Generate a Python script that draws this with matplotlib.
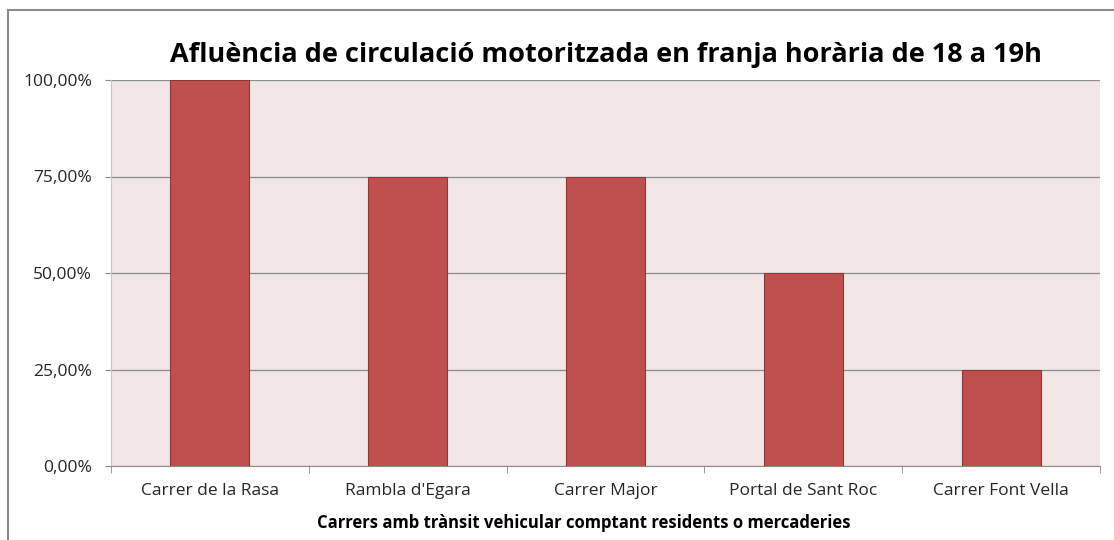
import matplotlib.pyplot as plt
from matplotlib.lines import Line2D
from matplotlib.ticker import FixedLocator, FuncFormatter

plt.rcParams["font.family"] = ["Open Sans", "DejaVu Sans"]

carrers = ["Carrer de la Rasa", "Rambla d'Egara", "Carrer Major",
           "Portal de Sant Roc", "Carrer Font Vella"]
afluencia = [1.00, 0.75, 0.75, 0.50, 0.25]
y_ticks = [0.0, 0.25, 0.50, 0.75, 1.00]

W, H = 1114, 540
fig = plt.figure(figsize=(W / 100, H / 100), dpi=100)
fig.patch.set_facecolor("white")

# chart frame (only left and top edge visible in the crop)
fig.add_artist(Line2D([8 / W, 8 / W], [0, 1 - 10 / H], transform=fig.transFigure,
                      color="#8c8c8c", lw=1.5))
fig.add_artist(Line2D([8 / W, 1], [1 - 10 / H, 1 - 10 / H], transform=fig.transFigure,
                      color="#8c8c8c", lw=1.5))

ax = fig.add_axes([111 / W, 1 - 466 / H, (1100 - 111) / W, (466 - 80) / H])
ax.set_facecolor("#f2e6e6")

x = range(len(carrers))
ax.bar(x, afluencia, width=0.4, color="#c0504d", edgecolor="#8c3836", linewidth=0.8, zorder=3)

ax.set_xlim(-0.5, len(carrers) - 0.5)
ax.set_ylim(0, 1.0)
ax.yaxis.set_major_locator(FixedLocator(y_ticks))
ax.yaxis.set_major_formatter(FuncFormatter(lambda v, p: f"{v * 100:.2f}%".replace(".", ",")))
ax.grid(axis="y", color="#8c8c8c", lw=0.9, zorder=1)

ax.set_xticks(list(x))
ax.set_xticklabels(carrers)
ax.set_xticks([i + 0.5 for i in range(-1, len(carrers))], minor=True)
ax.tick_params(axis="x", which="major", length=0, pad=12, labelsize=12.5, colors="#262626")
ax.tick_params(axis="x", which="minor", length=5, color="#8c8c8c", direction="out")
ax.tick_params(axis="y", length=4.5, color="#8c8c8c", labelsize=12.5, colors="#262626", pad=9)

for s in ["top", "right"]:
    ax.spines[s].set_visible(False)
ax.spines["left"].set_color("#c8c8c8")
ax.spines["bottom"].set_color("#8c8c8c")

ax.set_title("Afluència de circulació motoritzada en franja horària de 18 a 19h",
             fontsize=19.5, fontweight="bold", pad=13)
ax.set_xlabel("Carrers amb trànsit vehicular comptant residents o mercaderies",
              fontsize=12, fontweight="bold")
ax.xaxis.set_label_coords(0.478, -0.125)

plt.savefig("out.png", dpi=100)
